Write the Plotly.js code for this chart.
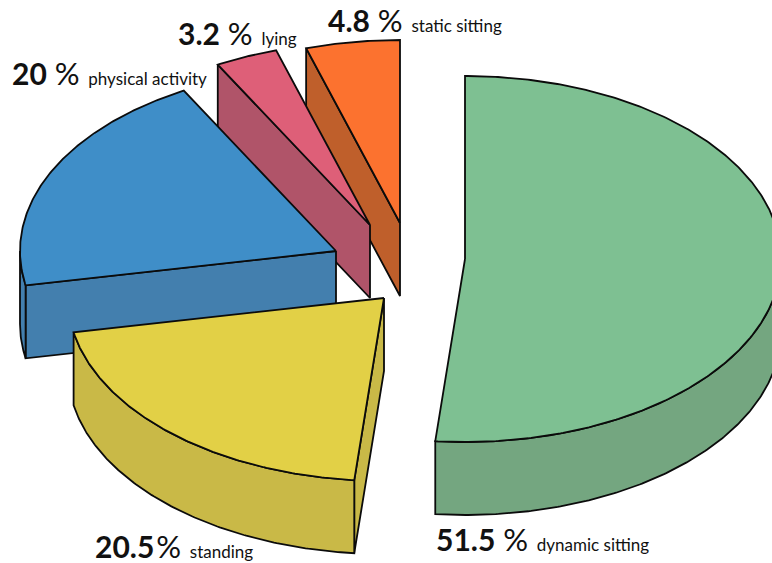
<!DOCTYPE html>
<html>
<head>
<meta charset="utf-8">
<script src="https://cdn.plot.ly/plotly-3.0.1.min.js"></script>
<style>html,body{margin:0;padding:0;background:#fff;overflow:hidden}#chart{width:772px;height:563px}</style>
</head>
<body>
<div id="chart"></div>
<script>
// Share of the day per activity, clockwise from twelve o'clock.
const categories = ['dynamic sitting', 'standing', 'physical activity', 'lying', 'static sitting'];
const shares = [51.5, 20.5, 20, 3.2, 4.8];

// Face colours, top and side.
const topColors = ['#7ec092', '#e2d046', '#3f8ec8', '#de5f78', '#fc722f'];
const sideColors = ['#74a680', '#c9b947', '#437fae', '#b05469', '#bf5f2b'];

// Where each exploded wedge sits, in the pixel-sized axis units.
const apexX = [465, 384, 336, 370, 400];
const apexY = [259, 298, 251, 225, 223];
const labelX = [436, 95, 12, 178, 328];
const labelY = [543, 550, 77, 37, 24];
// Space between number and percent sign; the standing label is set tight.
const valueGaps = [' ', '\u200a', ' ', ' ', ' '];

const RX = 316, RY = 183, DEPTH = 73;
const OUTLINE = {color: '#0b0b0b', width: 1.8};
const rad = d => d * Math.PI / 180;
const px = (i, a) => apexX[i] + RX * Math.sin(rad(a));
const py = (i, a) => apexY[i] - RY * Math.cos(rad(a));

function arc(i, a0, a1, dy) {
  const n = Math.max(2, Math.ceil(Math.abs(a1 - a0) * 2));
  const xs = [], ys = [];
  for (let k = 0; k <= n; k++) {
    const a = a0 + (a1 - a0) * k / n;
    xs.push(px(i, a));
    ys.push(py(i, a) + dy);
  }
  return [xs, ys];
}

function poly(xs, ys, color) {
  return {
    type: 'scatter', mode: 'lines', x: xs.concat(xs[0]), y: ys.concat(ys[0]),
    fill: 'toself', fillcolor: color, line: OUTLINE, hoverinfo: 'skip', showlegend: false
  };
}

// Wedge angles from the shares.
const starts = [], ends = [];
shares.reduce((acc, s) => {
  starts.push(acc * 3.6);
  ends.push((acc + s) * 3.6);
  return acc + s;
}, 0);

function wedge(i) {
  const out = [];
  const a0 = starts[i], a1 = ends[i];
  const ax = apexX[i], ay = apexY[i];

  const radial = (a) => {
    const ex = px(i, a), ey = py(i, a);
    out.push(poly([ax, ex, ex, ax], [ay, ey, ey + DEPTH, ay + DEPTH], sideColors[i]));
  };
  // A cut face shows only when its outward side turns toward the viewer.
  if (a0 > 180 && a0 < 360) radial(a0);
  if (a1 > 0 && a1 < 180) radial(a1);

  // Rim: only the part of the arc facing front.
  const r0 = Math.max(a0, 90), r1 = Math.min(a1, 270);
  if (r1 > r0) {
    const [tx, ty] = arc(i, r0, r1, 0);
    const [bx, by] = arc(i, r1, r0, DEPTH);
    out.push(poly(tx.concat(bx), ty.concat(by), sideColors[i]));
  }

  // Top face.
  const [fx, fy] = arc(i, a0, a1, 0);
  out.push(poly([ax].concat(fx), [ay].concat(fy), topColors[i]));
  return out;
}

// Back to front, so nearer wedges cover the further ones.
const drawOrder = [4, 3, 2, 1, 0];
const traces = [];
drawOrder.forEach(i => traces.push(...wedge(i)));

// Value and name beside each wedge.
traces.push({
  type: 'scatter', mode: 'text', x: labelX, y: labelY,
  text: shares.map((s, i) =>
    '<b>' + s + '</b><span style="font-size:31px">' + valueGaps[i] + '%</span>' +
    '<span style="font-size:17px">  ' + categories[i] + '</span>'),
  textposition: 'middle right',
  textfont: {family: 'Lato, sans-serif', size: 30, color: '#111'},
  hoverinfo: 'skip', showlegend: false, cliponaxis: false
});

const hidden = {visible: false, fixedrange: true};
Plotly.newPlot('chart', traces, {
  width: 772, height: 563,
  margin: {l: 0, r: 0, t: 0, b: 0},
  paper_bgcolor: '#fff', plot_bgcolor: '#fff',
  xaxis: Object.assign({range: [0, 772]}, hidden),
  yaxis: Object.assign({range: [563, 0]}, hidden),
  showlegend: false
}, {displayModeBar: false, staticPlot: true});
</script>
</body>
</html>
